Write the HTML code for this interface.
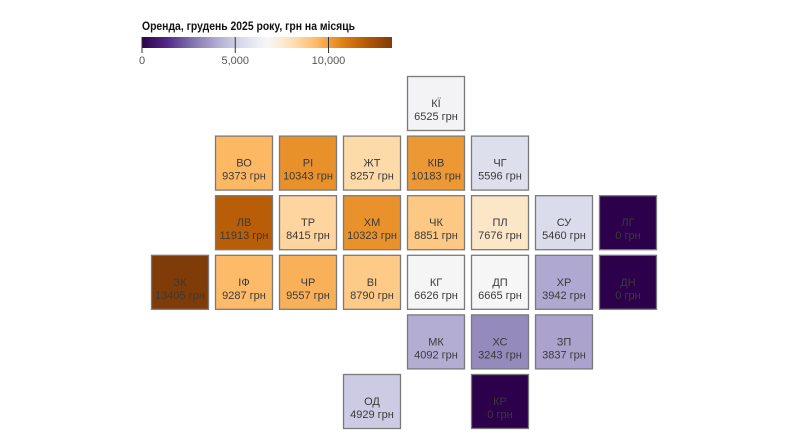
<!DOCTYPE html>
<html><head><meta charset="utf-8"><style>
html,body{margin:0;padding:0;background:#fff;width:800px;height:437px;overflow:hidden;font-family:"Liberation Sans","DejaVu Sans",sans-serif;}
svg{display:block}
</style></head><body>
<svg id="chart" width="800" height="437"></svg>
<script>
const regions=["КЇ","ВО","РІ","ЖТ","КІВ","ЧГ","ЛВ","ТР","ХМ","ЧК","ПЛ","СУ","ЛГ","ЗК","ІФ","ЧР","ВІ","КГ","ДП","ХР","ДН","МК","ХС","ЗП","ОД","КР"];
const values=[6525,9373,10343,8257,10183,5596,11913,8415,10323,8851,7676,5460,0,13405,9287,9557,8790,6626,6665,3942,0,4092,3243,3837,4929,0];
const cols=[4,1,2,3,4,5,1,2,3,4,5,6,7,0,1,2,3,4,5,6,7,4,5,6,3,5];
const rowsIdx=[0,1,1,1,1,1,2,2,2,2,2,2,2,3,3,3,3,3,3,3,3,4,4,4,5,5];
const legendTicks=[0,5000,10000];
const legendTickLabels=["0","5,000","10,000"];
const NS="http://www.w3.org/2000/svg";
const svg=document.getElementById('chart');
const stops=["#7f3b08","#b35806","#e08214","#fdb863","#fee0b6","#f7f7f7","#d8daeb","#b2abd2","#8073ac","#542788","#2d004b"];
function hex(h){return [1,3,5].map(i=>parseInt(h.substr(i,2),16));}
function puor(t){t=Math.max(0,Math.min(1,t));const n=stops.length-1;const i=Math.min(n-1,Math.floor(t*n));const f=t*n-i;const a=hex(stops[i]),b=hex(stops[i+1]);return 'rgb('+a.map((v,k)=>Math.round(v+(b[k]-v)*f)).join(',')+')';}
const vmax=Math.max(...values);
function color(v){return puor(1-v/vmax);}
function el(t,a,p){const e=document.createElementNS(NS,t);for(const k in a)e.setAttribute(k,a[k]);(p||svg).appendChild(e);return e;}
const lx0=142,lx1=392,ly=37,lh=11;
function lx(v){return lx0+(lx1-lx0)*v/vmax;}
const defs=el('defs',{});
const grad=el('linearGradient',{id:'lg',x1:'0',x2:'1',y1:'0',y2:'0'},defs);
for(let i=0;i<=20;i++){el('stop',{offset:(i/20),'stop-color':color(vmax*i/20)},grad);}
const title=el('text',{x:142,y:30,'font-size':'12','font-weight':'bold',fill:'#111',textLength:'213',lengthAdjust:'spacingAndGlyphs'});
title.textContent='Оренда, грудень 2025 року, грн на місяць';


const bar=el('rect',{x:lx0,y:ly,width:lx1-lx0,height:lh,fill:'url(#lg)'});


legendTicks.forEach((v,i)=>{
  const x=lx(v);
  const ln=el('line',{x1:x,x2:x,y1:ly,y2:ly+lh+5,stroke:'#333','stroke-width':1});
  
  
  const tx=el('text',{x:x,y:64,'font-size':'11',fill:'#555','text-anchor':'middle'});
  tx.textContent=legendTickLabels[i];
  
  
});
const gx0=151,gy0=76,sx=64,sy=59.6,tw=57,th=54;
regions.forEach((r,i)=>{
  const x=gx0+cols[i]*sx,y=gy0+rowsIdx[i]*sy;
  const g=el('g',{});
  
  
  el('rect',{x:x+0.5,y:y+0.5,width:tw,height:th,fill:color(values[i]),stroke:'#7a7a7a','stroke-width':1.3},g);
  const t1=el('text',{x:x+tw/2+0.5,y:y+th/2+4,'font-size':'11',fill:'#3a3a3a','text-anchor':'middle'},g);
  t1.textContent=r;
  
  
  const t2=el('text',{x:x+tw/2+0.5,y:y+th/2+17,'font-size':'11',fill:'#3a3a3a','text-anchor':'middle'},g);
  t2.textContent=values[i]+' грн';
  
  
});
</script>
</body></html>
